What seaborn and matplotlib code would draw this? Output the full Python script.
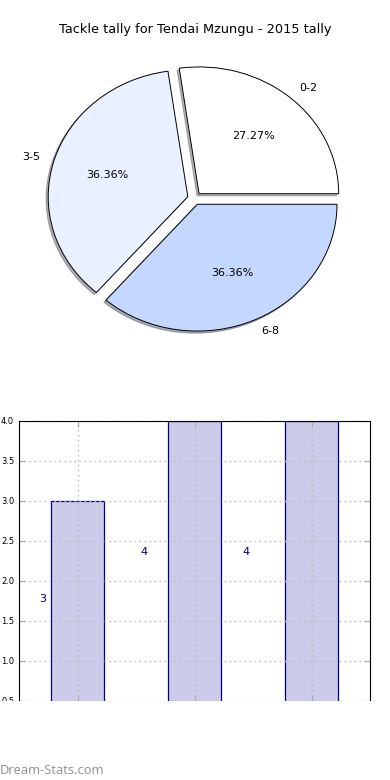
import numpy as np
import matplotlib
matplotlib.use("Agg")
import matplotlib.pyplot as plt
import seaborn as sns
from matplotlib.patches import Rectangle

# ---- data ----
groups = ["0-2", "3-5", "6-8"]
tackles = [3, 4, 4]
pie_colors = ["#ffffff", "#e9f0ff", "#c4d8ff"]

sns.set_style("white")
plt.rcParams['font.family'] = ['DejaVu Sans']
plt.rcParams['text.color'] = 'black'
plt.rcParams['ytick.color'] = 'black'
plt.rcParams['xtick.color'] = 'black'

fig = plt.figure(figsize=(3.9, 7.8), dpi=100)
fig.suptitle("Tackle tally for Tendai Mzungu - 2015 tally", y=0.97, fontsize=9.3)

# ---- pie ----
ax_pie = fig.add_axes([20 / 390, 1 - 357 / 780, 349 / 390, 317 / 780])
ax_pie.pie(
    tackles,
    labels=groups,
    colors=pie_colors,
    explode=[0.05] * len(tackles),
    autopct="%.2f%%",
    shadow=dict(ox=-0.011, oy=-0.012, shade=0.6),
    startangle=0,
    wedgeprops=dict(edgecolor="black", linewidth=0.7),
    textprops=dict(fontsize=8),
)
ax_pie.set_aspect("auto")
ax_pie.set_xlim(-1.25, 1.25)
ax_pie.set_ylim(-1.25, 1.25)

# ---- bars ----
ax_bar = fig.add_axes([19 / 390, 1 - 701 / 780, 351 / 390, 280 / 780])
sns.barplot(
    x=groups, y=tackles, ax=ax_bar,
    width=0.45, color="#ccccea", saturation=1,
    edgecolor="#000080", linewidth=0.9,
)
ax_bar.set_xlim(-0.5, 2.5)
ax_bar.set_ylim(0.5, 4.0)
ax_bar.set_yticks(np.arange(0.5, 4.01, 0.5))
ax_bar.set_xticks(range(len(groups)))
ax_bar.set_xticklabels([])
ax_bar.grid(True, linestyle=(0, (1.2, 2.4)), color="#bbbbbb", linewidth=1.0)
ax_bar.set_axisbelow(False)
ax_bar.tick_params(axis="y", labelsize=6, direction="in", right=True, left=True,
                   length=4, color="#aaaaaa")
ax_bar.tick_params(axis="x", direction="in", top=True, bottom=True, length=4,
                   color="#aaaaaa")
for s in ax_bar.spines.values():
    s.set_color("black")
    s.set_linewidth(0.8)
    s.set_zorder(5)
ax_bar.spines["bottom"].set_visible(False)

# value labels (odd offsets as in the original)
for i, v in enumerate(tackles):
    ax_bar.text(i * 0.87 - 0.3, v * 0.59, str(v), color="#000080",
                fontsize=8, ha="center", va="center")

# white band hiding the lower part of the bar axes
fig.patches.append(Rectangle((0, 0), 1, 1 - 701 / 780, transform=fig.transFigure,
                             facecolor="white", edgecolor="none", zorder=10))
fig.text(0.0, 1 - 770 / 780, "Dream-Stats.com", family=["Open Sans", "DejaVu Sans"],
         fontsize=9.3, color="#8f8f8f", va="center", ha="left", zorder=11)

fig.savefig("out.png", dpi=100)
